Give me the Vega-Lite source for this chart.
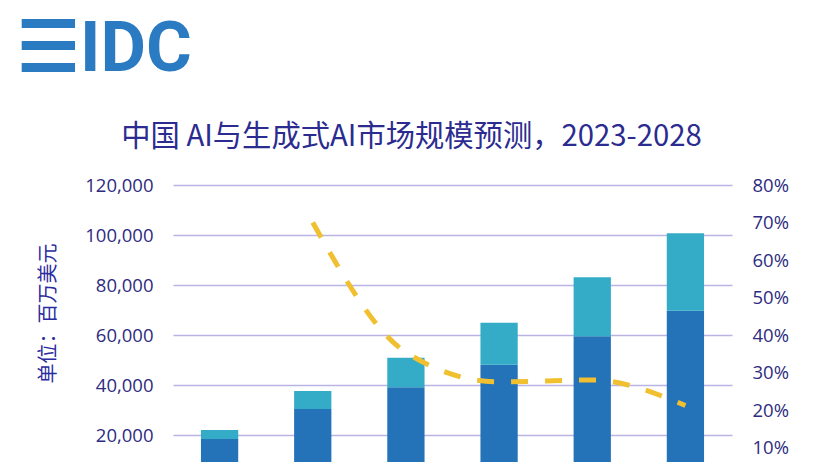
{
  "$schema": "https://vega.github.io/schema/vega-lite/v6.json",
  "autosize": {"type": "none"},
  "width": 559,
  "height": 300,
  "padding": {"left": 173, "top": 185, "right": 89, "bottom": 0},
  "background": "white",
  "title": {
    "text": "☰IDC",
    "frame": "group",
    "anchor": "start",
    "dx": -156,
    "offset": -19,
    "fontSize": 70,
    "font": "Roboto",
    "fontWeight": "bold",
    "color": "#2a7bc1",
    "baseline": "alphabetic"
  },
  "datasets": {
    "market": [
      {"year": "2023", "type": "非生成式AI", "value": 18400},
      {"year": "2023", "type": "生成式AI", "value": 3600},
      {"year": "2024", "type": "非生成式AI", "value": 30400},
      {"year": "2024", "type": "生成式AI", "value": 7200},
      {"year": "2025", "type": "非生成式AI", "value": 39100},
      {"year": "2025", "type": "生成式AI", "value": 11800},
      {"year": "2026", "type": "非生成式AI", "value": 48100},
      {"year": "2026", "type": "生成式AI", "value": 16800},
      {"year": "2027", "type": "非生成式AI", "value": 59500},
      {"year": "2027", "type": "生成式AI", "value": 23600},
      {"year": "2028", "type": "非生成式AI", "value": 69700},
      {"year": "2028", "type": "生成式AI", "value": 31000}
    ],
    "growth": [
      {"year": "2024", "rate": 0.70},
      {"year": "2025", "rate": 0.354},
      {"year": "2026", "rate": 0.275},
      {"year": "2027", "rate": 0.28},
      {"year": "2028", "rate": 0.212}
    ]
  },
  "layer": [
    {
      "data": {"name": "market"},
      "mark": {"type": "bar"},
      "encoding": {
        "x": {
          "field": "year",
          "type": "ordinal",
          "scale": {"paddingInner": 0.6, "paddingOuter": 0.3},
          "axis": null
        },
        "y": {
          "field": "value",
          "type": "quantitative",
          "aggregate": "sum",
          "stack": "zero",
          "scale": {"domain": [0, 120000]},
          "axis": {
            "values": [20000, 40000, 60000, 80000, 100000, 120000],
            "format": ",.0f",
            "title": "单位：百万美元",
            "titleFont": "Noto Sans CJK SC",
            "titleFontSize": 20,
            "titleFontWeight": "normal",
            "titleColor": "#2b2ba0",
            "titleAngle": -90,
            "titleX": -125,
            "titleY": 128,
            "titleAlign": "center",
            "titleBaseline": "middle",
            "labelFont": "Open Sans",
            "labelFontSize": 18.5,
            "labelColor": "#2e2c80",
            "labelPadding": 20,
            "ticks": false,
            "domain": false,
            "grid": true,
            "gridColor": "#b8b4e4",
            "gridWidth": 1.5
          }
        },
        "color": {
          "field": "type",
          "type": "nominal",
          "scale": {"domain": ["非生成式AI", "生成式AI"], "range": ["#2473b9", "#35acc7"]},
          "legend": null
        },
        "order": {"field": "type", "sort": "descending"}
      }
    },
    {
      "data": {"name": "growth"},
      "mark": {"type": "line", "color": "#f0c030", "strokeWidth": 5, "strokeDash": [17, 17], "interpolate": "monotone"},
      "encoding": {
        "x": {
          "field": "year",
          "type": "ordinal",
          "axis": {
            "orient": "top",
            "labels": false,
            "ticks": false,
            "domain": false,
            "title": "中国 AI与生成式AI市场规模预测，2023-2028",
            "titleFont": "Noto Sans CJK SC",
            "titleFontSize": 29.3,
            "titleFontWeight": "normal",
            "titleColor": "#2b2b90",
            "titleX": 238,
            "titleY": -40,
            "titleAlign": "center",
            "titleBaseline": "alphabetic"
          }
        },
        "y": {
          "field": "rate",
          "type": "quantitative",
          "scale": {"domain": [0, 0.8]},
          "axis": {
            "orient": "right",
            "values": [0.1, 0.2, 0.3, 0.4, 0.5, 0.6, 0.7, 0.8],
            "format": ".0%",
            "title": null,
            "labelFont": "Open Sans",
            "labelFontSize": 18.5,
            "labelColor": "#2e2c80",
            "labelPadding": 20,
            "ticks": false,
            "domain": false,
            "grid": false
          }
        }
      }
    }
  ],
  "resolve": {"scale": {"y": "independent"}, "axis": {"x": "independent"}},
  "config": {"view": {"stroke": null}}
}
